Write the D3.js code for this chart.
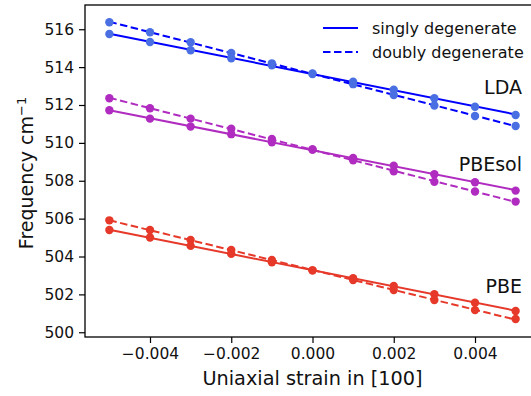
<!DOCTYPE html>
<html>
<head>
<meta charset="utf-8">
<script src="https://cdn.jsdelivr.net/npm/d3@7"></script>
<style>
  body { margin: 0; background: #fff; }
  svg { display: block; font-family: "DejaVu Sans", sans-serif; }
</style>
</head>
<body>
<svg id="chart" width="531" height="396"></svg>
<script>
// strain values (x)
let strain = [-0.005, -0.004, -0.003, -0.002, -0.001, 0.000, 0.001, 0.002, 0.003, 0.004, 0.005];

// frequencies (cm^-1)
let ldaSingly   = [515.75, 515.33, 514.89, 514.47, 514.10, 513.64, 513.23, 512.81, 512.36, 511.91, 511.47];
let ldaDoubly   = [516.37, 515.84, 515.31, 514.75, 514.20, 513.66, 513.10, 512.53, 511.97, 511.42, 510.89];
let solSingly   = [511.72, 511.28, 510.86, 510.46, 510.03, 509.65, 509.20, 508.80, 508.34, 507.92, 507.48];
let solDoubly   = [512.36, 511.83, 511.28, 510.75, 510.21, 509.65, 509.08, 508.50, 507.95, 507.43, 506.90];
let pbeSingly   = [505.40, 505.00, 504.56, 504.14, 503.70, 503.27, 502.85, 502.44, 502.01, 501.56, 501.12];
let pbeDoubly   = [505.91, 505.40, 504.87, 504.34, 503.82, 503.27, 502.76, 502.23, 501.70, 501.17, 500.70];

let xTicks = [-0.004, -0.002, 0.000, 0.002, 0.004];
let yTicks = [500, 502, 504, 506, 508, 510, 512, 514, 516];

let groups = [
    {name: "LDA",    singly: ldaSingly, doubly: ldaDoubly, line: "#0000ff", dot: "#4a6fe3", labelY: 512.56},
    {name: "PBEsol", singly: solSingly, doubly: solDoubly, line: "#b02cc0", dot: "#b02cc0", labelY: 508.53},
    {name: "PBE",    singly: pbeSingly, doubly: pbeDoubly, line: "#e6392a", dot: "#e6392a", labelY: 502.09}
];

let svg = d3.select("#chart");
let mLeft = 85, mTop = 5, mBottom = 337, mRight = 540;

let x = d3.scaleLinear().domain([-0.0056, 0.0056]).range([mLeft, mRight]);
let y = d3.scaleLinear().domain([499.75, 517.28]).range([mBottom, mTop]);

// least squares straight line through a series
function fit(ys) {
    let mx = d3.mean(strain), my = d3.mean(ys);
    let num = d3.sum(strain, (s, i) => (s - mx) * (ys[i] - my));
    let den = d3.sum(strain, s => (s - mx) * (s - mx));
    let b = num / den, a = my - b * mx;
    let ends = d3.extent(strain);
    return ends.map(s => [s, a + b * s]);
}

let line = d3.line().x(d => x(d[0])).y(d => y(d[1]));

groups.forEach(g => {
    [["singly", null], ["doubly", "7.5,3.5"]].forEach(([key, dash]) => {
        svg.append("path")
            .attr("d", line(fit(g[key])))
            .attr("fill", "none")
            .attr("stroke", g.line)
            .attr("stroke-width", 2)
            .attr("stroke-dasharray", dash);
        svg.append("g").selectAll("circle")
            .data(g[key])
            .join("circle")
            .attr("cx", (d, i) => x(strain[i]))
            .attr("cy", d => y(d))
            .attr("r", 4.2)
            .attr("fill", g.dot);
    });
    svg.append("text")
        .attr("x", 522)
        .attr("y", y(g.labelY))
        .attr("text-anchor", "end")
        .attr("font-size", 19)
        .attr("fill", "#111")
        .text(g.name);
});

// axes
let xAxis = svg.append("g")
    .attr("transform", "translate(0," + mBottom + ")")
    .call(d3.axisBottom(x).tickValues(xTicks).tickFormat(d3.format(".3f")).tickSize(6).tickPadding(5).tickSizeOuter(0));
let yAxis = svg.append("g")
    .attr("transform", "translate(" + mLeft + ",0)")
    .call(d3.axisLeft(y).tickValues(yTicks).tickFormat(d3.format("d")).tickSize(6).tickPadding(5).tickSizeOuter(0));

[xAxis, yAxis].forEach(a => {
    a.selectAll("text").attr("font-size", 15.5).attr("fill", "#111").attr("font-family", "DejaVu Sans");
    a.selectAll("line").attr("stroke", "#000").attr("stroke-width", 1.2);
    a.select(".domain").remove();
});

// spines
svg.append("rect")
    .attr("x", mLeft).attr("y", mTop)
    .attr("width", mRight - mLeft).attr("height", mBottom - mTop)
    .attr("fill", "none").attr("stroke", "#000").attr("stroke-width", 1.3);

// axis labels
svg.append("text")
    .attr("x", x(0))
    .attr("y", 385)
    .attr("text-anchor", "middle")
    .attr("font-size", 19.3)
    .attr("fill", "#111")
    .text("Uniaxial strain in [100]");

let yl = svg.append("text")
    .attr("transform", "translate(33,173) rotate(-90)")
    .attr("text-anchor", "middle")
    .attr("font-size", 19)
    .attr("fill", "#111");
yl.append("tspan").text("Frequency cm");
yl.append("tspan").attr("dy", -7).attr("font-size", 13).text("−1");

// legend
let legend = [["singly degenerate", null], ["doubly degenerate", "7.5,3.5"]];
legend.forEach(([label, dash], i) => {
    let ly = 28 + i * 24;
    svg.append("line")
        .attr("x1", 323).attr("x2", 358)
        .attr("y1", ly).attr("y2", ly)
        .attr("stroke", "#0000ff")
        .attr("stroke-width", 2)
        .attr("stroke-dasharray", dash);
    svg.append("text")
        .attr("x", 372).attr("y", ly)
        .attr("dy", "0.35em")
        .attr("font-size", 16)
        .attr("fill", "#111")
        .text(label);
});
</script>
</body>
</html>
